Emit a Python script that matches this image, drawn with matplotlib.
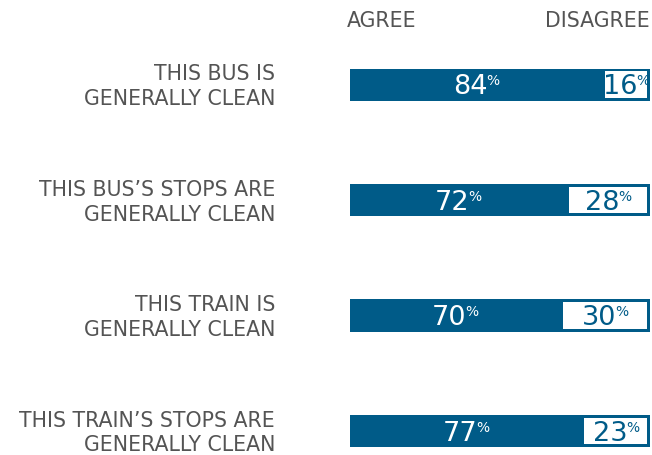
import matplotlib.pyplot as plt

# survey results, percent
statements = [
    "THIS BUS IS\nGENERALLY CLEAN",
    "THIS BUS\u2019S STOPS ARE\nGENERALLY CLEAN",
    "THIS TRAIN IS\nGENERALLY CLEAN",
    "THIS TRAIN\u2019S STOPS ARE\nGENERALLY CLEAN",
]
agree = [84, 72, 70, 77]
disagree = [16, 28, 30, 23]

BLUE = "#005b88"
GREY = "#545454"
plt.rcParams["font.family"] = ["DejaVu Sans"]

fig = plt.figure(figsize=(6.52, 4.55), dpi=100)
W, H = 652, 455
# axes spans the bar area; bars sit on integer rows
ax = fig.add_axes([350 / W, 0, 300 / W, 428 / H])
ax.set_xlim(0, 100)
ax.set_ylim(3.208, -0.5)
ax.axis("off")

rows = range(len(statements))
bh = 0.28
ax.barh(rows, [a + d for a, d in zip(agree, disagree)], height=bh,
        color=BLUE, linewidth=0)
# white inset box for the disagree share
ax.barh(rows, [d - 2 for d in disagree], left=[a + 1 for a in agree],
        height=bh - 0.05, color="white", linewidth=0)

for i, (a, d, s) in enumerate(zip(agree, disagree, statements)):
    t = ax.annotate(f"{a}", xy=(a / 2, i), xytext=(-4, -2),
                    textcoords="offset points", ha="center", va="center",
                    fontsize=19.5, color="white")
    ax.annotate("%", xy=(0.97, 1.0), xycoords=t, ha="left", va="top",
                fontsize=10, color="white")
    t = ax.annotate(f"{d}", xy=(a + d / 2, i), xytext=(-4, -2),
                    textcoords="offset points", ha="center", va="center",
                    fontsize=19.5, color=BLUE)
    ax.annotate("%", xy=(0.97, 1.0), xycoords=t, ha="left", va="top",
                fontsize=10, color=BLUE)
    ax.annotate(s, xy=(0, i), xytext=(-54, -1.5), textcoords="offset points",
                ha="right", va="center", fontsize=14.8, color=GREY,
                linespacing=1.3)

fig.text(347 / W, 1 - 21 / H, "AGREE", ha="left", va="center",
         fontsize=14.8, color=GREY)
fig.text(650 / W, 1 - 21 / H, "DISAGREE", ha="right", va="center",
         fontsize=14.8, color=GREY)

fig.savefig("out.png", dpi=100)
